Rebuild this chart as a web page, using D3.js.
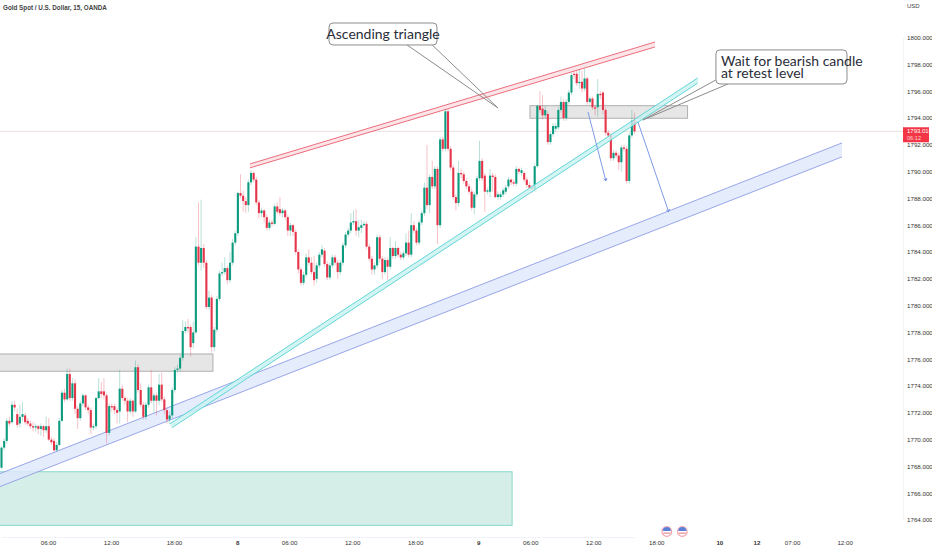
<!DOCTYPE html>
<html>
<head>
<meta charset="utf-8">
<style>
  html, body { margin: 0; padding: 0; background: #fff; }
  svg { display: block; }
</style>
<script src="https://cdn.jsdelivr.net/npm/d3@7"></script>
</head>
<body>
<div id="chart"></div>
<script>
// Data
const opens = [
  1767.9,1769.4,1769.9,1771.4,1771.3,1772.6,1771.9,1771.2,1771.7,1771.8,
  1771.4,1771.2,1771.0,1770.9,1771.0,1770.8,1771.0,1770.7,1771.0,1770.0,
  1769.9,1769.2,1769.6,1771.4,1773.5,1773.0,1774.9,1773.1,1774.2,1772.3,
  1771.6,1772.7,1773.3,1772.4,1772.2,1770.9,1771.0,1773.1,1773.6,1773.6,
  1773.3,1770.5,1772.5,1772.5,1772.2,1772.1,1773.8,1773.1,1772.9,1772.1,
  1772.9,1772.1,1775.4,1773.7,1772.6,1771.7,1772.6,1773.9,1772.9,1773.3,
  1772.9,1774.1,1773.0,1772.2,1771.5,1771.8,1773.7,1775.2,1775.3,1776.1,
  1778.1,1778.4,1778.4,1777.2,1778.0,1784.4,1783.2,1784.3,1783.2,1779.9,
  1780.6,1776.9,1778.2,1780.5,1782.4,1782.5,1782.8,1781.9,1783.2,1784.7,
  1785.4,1788.4,1788.2,1787.8,1787.5,1789.2,1789.9,1789.4,1787.7,1786.9,
  1787.1,1786.6,1785.8,1786.2,1786.1,1787.4,1787.2,1786.9,1787.1,1786.6,
  1785.6,1786.0,1785.5,1784.0,1782.7,1781.7,1782.3,1783.6,1783.2,1782.5,
  1782.0,1783.0,1783.8,1784.1,1783.1,1782.1,1783.0,1783.6,1783.2,1782.5,
  1783.2,1784.5,1785.3,1785.6,1786.2,1786.3,1785.6,1785.8,1786.0,1786.1,
  1784.4,1783.5,1782.7,1783.0,1785.1,1783.5,1782.5,1783.4,1782.9,1784.3,
  1783.7,1784.3,1783.8,1783.6,1783.9,1784.7,1783.8,1786.0,1785.6,1784.7,
  1786.2,1786.9,1788.8,1787.5,1789.6,1788.9,1790.2,1786.0,1792.4,1791.7,
  1794.5,1791.7,1790.3,1788.1,1787.65,1789.9,1789.8,1789.3,1788.9,1788.5,
  1787.3,1788.3,1789.5,1790.8,1789.7,1788.5,1788.5,1789.7,1789.6,1788.1,
  1788.1,1788.3,1788.5,1788.9,1789.4,1789.2,1789.1,1790.2,1789.9,1789.9,
  1789.4,1789.0,1788.8,1788.7,1790.4,1794.9,1794.7,1794.2,1794.3,1792.2,
  1792.8,1793.2,1793.3,1794.6,1795.2,1794.0,1795.2,1795.9,1797.3,1797.3,
  1796.6,1796.7,1796.2,1796.95,1795.2,1795.45,1794.8,1794.8,1795.8,1795.9,
  1794.6,1792.9,1792.7,1791.0,1791.4,1791.2,1790.7,1791.8,1791.7,1789.3,
  1792.7,1793.85
]
const closes = [
  1769.4,1769.9,1771.4,1771.2,1772.6,1772.4,1771.1,1771.7,1771.9,1771.3,
  1771.2,1771.0,1770.9,1771.0,1770.8,1771.0,1770.7,1771.0,1770.0,1769.8,
  1769.2,1769.6,1771.4,1773.5,1773.0,1774.9,1773.1,1774.2,1772.3,1771.6,
  1772.7,1773.3,1772.4,1772.2,1770.9,1771.0,1773.1,1773.6,1773.4,1773.3,
  1770.5,1772.5,1772.4,1772.2,1772.0,1773.8,1773.1,1772.9,1772.1,1772.9,
  1772.1,1775.4,1773.7,1772.6,1771.7,1772.6,1773.9,1772.9,1773.3,1772.9,
  1774.1,1773.0,1772.2,1771.5,1771.8,1773.7,1775.2,1775.3,1776.1,1778.1,
  1778.4,1778.3,1776.9,1778.0,1784.4,1783.2,1784.3,1783.2,1779.9,1780.6,
  1776.9,1778.2,1780.5,1782.4,1782.5,1782.8,1781.9,1783.2,1784.7,1785.4,
  1788.4,1788.2,1787.8,1787.5,1789.2,1789.9,1789.4,1787.7,1786.9,1787.1,
  1786.6,1785.8,1786.2,1786.1,1787.4,1787.0,1786.9,1787.1,1786.6,1785.6,
  1786.0,1785.5,1784.0,1782.7,1781.7,1782.3,1783.6,1783.2,1782.5,1781.9,
  1783.0,1783.8,1784.2,1783.1,1782.1,1783.0,1783.6,1783.2,1782.5,1783.2,
  1784.5,1785.3,1785.6,1786.2,1786.3,1785.6,1785.85,1786.0,1786.1,1784.4,
  1783.5,1782.7,1783.0,1785.1,1783.5,1782.5,1783.4,1782.9,1784.3,1783.7,
  1784.3,1783.8,1783.6,1783.9,1784.7,1783.8,1786.0,1785.6,1784.7,1786.2,
  1786.9,1788.8,1787.5,1789.6,1788.9,1790.2,1786.0,1792.4,1791.7,1794.5,
  1791.7,1790.3,1788.1,1787.65,1789.9,1789.8,1789.3,1788.9,1788.5,1787.3,
  1788.3,1789.5,1790.8,1789.5,1788.5,1788.6,1789.7,1789.6,1788.1,1788.3,
  1788.3,1788.6,1788.8,1789.4,1789.2,1789.1,1790.2,1790.0,1790.1,1789.4,
  1789.0,1788.8,1788.7,1790.4,1794.9,1794.6,1794.2,1794.6,1792.2,1792.8,
  1793.4,1793.4,1794.6,1795.2,1794.0,1795.2,1795.9,1797.2,1797.2,1796.6,
  1796.7,1796.2,1796.95,1795.2,1795.45,1794.8,1794.7,1795.8,1795.7,1794.6,
  1792.9,1792.7,1791.0,1791.4,1791.2,1790.7,1791.8,1791.7,1789.3,1792.7,
  1793.8,1793.0
]
const highs = [
  1769.5,1770.1,1771.6,1771.7,1772.9,1772.9,1772.3,1772.6,1772.8,1772.0,
  1771.6,1771.4,1771.3,1771.2,1771.1,1771.2,1771.1,1771.7,1771.6,1770.2,
  1770.1,1769.8,1771.6,1773.7,1773.8,1775.3,1775.3,1774.6,1774.5,1772.5,
  1772.9,1773.5,1773.4,1772.6,1772.4,1771.2,1773.2,1774.6,1774.3,1774.6,
  1773.5,1772.7,1772.7,1772.7,1772.4,1775.2,1774.1,1773.3,1773.1,1773.1,
  1773.0,1775.9,1775.6,1774.2,1772.8,1772.8,1774.1,1775.2,1773.5,1773.5,
  1774.9,1775.0,1773.2,1772.4,1772.1,1773.9,1775.4,1775.6,1776.3,1778.9,
  1778.8,1779.0,1778.6,1778.8,1785.1,1787.7,1787.9,1784.6,1783.4,1781.1,
  1780.8,1778.4,1780.7,1782.6,1783.2,1783.6,1783.0,1784.0,1785.0,1785.6,
  1788.5,1789.8,1788.6,1788.1,1789.4,1790.1,1790.0,1789.6,1787.9,1787.3,
  1787.2,1786.8,1786.4,1786.4,1787.6,1787.7,1788.1,1787.3,1787.2,1786.8,
  1786.2,1786.1,1785.7,1784.2,1782.9,1782.5,1783.9,1784.2,1783.6,1783.7,
  1783.2,1784.0,1784.5,1784.3,1783.3,1783.2,1783.8,1783.8,1783.4,1783.4,
  1784.7,1785.5,1785.8,1786.9,1787.1,1787.2,1786.4,1786.4,1786.3,1786.3,
  1784.6,1783.7,1783.2,1785.3,1785.3,1783.7,1783.6,1783.6,1785.1,1784.4,
  1784.8,1784.4,1784.0,1784.1,1785.4,1785.6,1786.9,1786.3,1785.8,1786.4,
  1787.1,1789.2,1792.0,1789.8,1790.8,1790.4,1790.4,1792.6,1792.6,1794.7,
  1794.7,1791.9,1790.5,1788.3,1790.8,1790.2,1790.0,1789.5,1789.1,1788.7,
  1788.5,1789.7,1792.3,1791.0,1789.9,1788.8,1790.2,1789.9,1789.8,1788.5,
  1788.5,1788.8,1789.0,1789.6,1789.5,1789.4,1790.4,1790.3,1790.3,1790.0,
  1789.6,1789.2,1789.0,1790.6,1795.0,1796.0,1795.7,1794.9,1794.5,1793.0,
  1793.6,1793.6,1794.8,1795.6,1795.4,1795.4,1796.1,1797.4,1797.6,1797.6,
  1797.7,1797.5,1797.7,1797.1,1795.6,1795.6,1795.0,1796.9,1796.0,1796.0,
  1794.8,1793.1,1792.9,1791.6,1791.6,1791.4,1792.0,1792.0,1791.9,1792.9,
  1794.6,1794.4
]
const lows = [
  1767.8,1769.2,1769.7,1771.0,1771.2,1772.1,1770.9,1770.9,1771.4,1771.1,
  1771.0,1770.8,1770.6,1770.6,1770.4,1770.3,1770.2,1770.5,1769.9,1769.6,
  1769.1,1769.1,1769.5,1771.3,1772.8,1772.9,1772.9,1772.9,1771.9,1770.8,
  1771.4,1772.5,1772.2,1771.9,1770.4,1770.7,1770.8,1773.0,1773.1,1773.0,
  1769.7,1770.3,1772.1,1771.9,1771.2,1771.2,1772.9,1772.6,1771.3,1771.9,
  1771.7,1772.0,1773.5,1772.4,1771.5,1771.5,1772.4,1772.7,1772.0,1771.8,
  1772.6,1772.8,1771.9,1771.2,1771.2,1771.6,1773.5,1775.0,1775.1,1775.9,
  1777.9,1778.0,1776.2,1776.8,1777.9,1783.0,1782.6,1782.8,1779.7,1779.7,
  1776.5,1776.6,1778.0,1780.3,1782.2,1782.3,1781.6,1781.7,1783.0,1784.5,
  1785.2,1788.0,1787.0,1786.9,1787.0,1789.0,1789.2,1787.5,1786.5,1786.6,
  1786.2,1785.6,1785.6,1785.9,1786.0,1786.8,1786.7,1786.6,1786.4,1785.2,
  1785.2,1785.2,1783.8,1782.4,1781.5,1781.5,1782.1,1783.0,1782.3,1781.5,
  1781.7,1782.8,1783.6,1782.9,1781.9,1781.9,1782.8,1783.0,1782.0,1782.3,
  1783.0,1784.3,1785.1,1785.4,1786.0,1785.2,1785.1,1785.4,1785.9,1784.2,
  1783.3,1782.3,1782.3,1782.8,1783.2,1782.0,1782.3,1781.9,1782.7,1783.5,
  1783.5,1783.6,1783.4,1783.4,1783.7,1783.6,1783.6,1785.4,1784.5,1784.5,
  1786.0,1786.7,1787.2,1786.9,1788.7,1788.7,1784.6,1785.8,1791.5,1791.5,
  1791.5,1790.1,1787.9,1787.1,1787.4,1789.5,1789.1,1788.7,1788.3,1787.1,
  1786.8,1788.1,1789.3,1789.3,1787.0,1788.3,1788.1,1788.5,1788.0,1787.9,
  1787.9,1788.1,1788.3,1788.7,1789.0,1788.9,1788.9,1789.8,1789.7,1789.2,
  1788.8,1788.6,1788.4,1788.5,1790.3,1794.4,1793.9,1794.0,1792.0,1792.0,
  1792.6,1793.0,1793.1,1794.4,1793.8,1793.8,1795.0,1795.7,1796.9,1796.4,
  1796.2,1795.9,1796.0,1795.0,1795.0,1794.6,1794.2,1794.1,1795.4,1794.3,
  1792.7,1792.5,1790.8,1790.8,1791.0,1790.1,1790.0,1791.5,1789.1,1789.1,
  1792.5,1792.8
]

const priceTicks = [1764,1766,1768,1770,1772,1774,1776,1778,1780,1782,1784,1786,1788,1790,1792,1794,1796,1798,1800]
const timeTicks = [17.7,41.7,65.7,89.7,109.5,133.5,157.5,181.5,201.3,225.3,249.3,273.3,287.4,301,321]
const timeLabels = ["06:00","12:00","18:00","8","06:00","12:00","18:00","9","06:00","12:00","18:00","10","12","07:00","12:00"]
const boldLabels = ["8","9","10","12"]

const chartTitle = "Gold Spot / U.S. Dollar, 15, OANDA"
const lastPrice = 1793.01
const countdown = "06:12"

// zonas: [barra inicio, barra fin, precio alto, precio bajo]
const greyZones = [[-5,80.5,1776.39,1775.1],[201.2,261.2,1794.92,1793.98]]
const tealZone = [-5,194.4,1767.6,1763.6]

// canales: [barra, precio]
const blueChannel = [[-0.6,1767.46],[320,1792.14],[320,1791.1],[-0.6,1766.49]]
const cyanChannel = [[64.1,1771.18],[265.1,1796.99],[265.1,1796.61],[64.9,1770.89]]
const redChannel = [[94.6,1790.57],[248.8,1799.67],[248.8,1799.3],[94.6,1790.28]]

const arrows = [[[223.3,1794.45],[230.1,1789.31]],[[242.3,1793.71],[254,1787.0]]]
const eventBars = [253.3,259.2]

const callouts = [
  {lines:["Ascending triangle"], box:[124.7,165.8,1801.09,1799.45], tip:[189,1794.75], from:[[154.4,1799.45],[164,1799.45]]},
  {lines:["Wait for bearish candle","at retest level"], box:[272,321.9,1799.08,1796.54], tip:[244.2,1793.85], from:[[272,1796.84],[276.6,1796.54]]}
]

// Constantes
const width = 932
const height = 550
const axisX = 903
const upColor = "#0d9b7f"
const downColor = "#e5354b"

const svg = d3.select("div#chart")
  .append("svg")
  .attr("width", width)
  .attr("height", height)

svg.append("rect").attr("width", width).attr("height", height).attr("fill", "#fff")

// Escalas
const x = d3.scaleLinear().domain([0, opens.length - 1]).range([1.5, 634.5])
const y = d3.scaleLinear().domain([1764, 1800]).range([520, 37.6])
const barWidth = 2.1

svg.append("clipPath").attr("id", "plot")
  .append("rect").attr("width", axisX).attr("height", 537)

const plot = svg.append("g").attr("clip-path", "url(#plot)")

// Linea de ultimo precio
plot.append("line")
  .attr("x1", 0).attr("x2", axisX)
  .attr("y1", y(lastPrice)).attr("y2", y(lastPrice))
  .attr("stroke", "#eadfdf")

// Zonas
plot.selectAll("rect.grey").data(greyZones).enter().append("rect")
  .attr("class", "grey")
  .attr("x", d => x(d[0]))
  .attr("y", d => y(d[2]))
  .attr("width", d => x(d[1]) - x(d[0]))
  .attr("height", d => y(d[3]) - y(d[2]))
  .attr("fill", "#e6e6e6")
  .attr("stroke", "#b0b0b0")

plot.append("rect")
  .attr("x", x(tealZone[0]))
  .attr("y", y(tealZone[2]))
  .attr("width", x(tealZone[1]) - x(tealZone[0]))
  .attr("height", y(tealZone[3]) - y(tealZone[2]))
  .attr("fill", "#d5eee8")
  .attr("stroke", "#86d8cb")

// Canales
const line = d3.line().x(d => x(d[0])).y(d => y(d[1]))

function channel(points, fill, stroke) {
  plot.append("path")
    .attr("d", line(points) + "Z")
    .attr("fill", fill)
    .attr("fill-opacity", 0.8)
    .attr("stroke", "none")
  plot.append("path")
    .attr("d", line(points.slice(0, 2)))
    .attr("fill", "none")
    .attr("stroke", stroke)
  plot.append("path")
    .attr("d", line(points.slice(2, 4)))
    .attr("fill", "none")
    .attr("stroke", stroke)
}

channel(blueChannel, "#dfe7fb", "#98a6ea")

// Velas
const candles = plot.append("g").attr("class", "candles")
const idx = d3.range(opens.length)

candles.selectAll("line").data(idx).enter().append("line")
  .attr("x1", i => x(i))
  .attr("x2", i => x(i))
  .attr("y1", i => y(highs[i]))
  .attr("y2", i => y(lows[i]))
  .attr("stroke", i => closes[i] >= opens[i] ? upColor : downColor)
  .attr("stroke-opacity", 0.3)
  .attr("stroke-width", 1)

candles.selectAll("rect").data(idx).enter().append("rect")
  .attr("x", i => x(i) - barWidth / 2)
  .attr("y", i => y(Math.max(opens[i], closes[i])))
  .attr("width", barWidth)
  .attr("height", i => Math.max(0.7, Math.abs(y(opens[i]) - y(closes[i]))))
  .attr("fill", i => closes[i] >= opens[i] ? upColor : downColor)

channel(cyanChannel, "#c9f1f1", "#62d6d6")
channel(redChannel, "#fbdfe2", "#ec6d7c")

// Flechas
const arrowGroup = plot.append("g")
arrows.forEach(a => {
  arrowGroup.append("path")
    .attr("d", line(a))
    .attr("fill", "none")
    .attr("stroke", "#7f9be6")
  const ang = Math.atan2(y(a[1][1]) - y(a[0][1]), x(a[1][0]) - x(a[0][0]))
  const tx = x(a[1][0]), ty = y(a[1][1])
  const s = 3
  arrowGroup.append("path")
    .attr("d", `M${tx - s * Math.cos(ang - 0.6)},${ty - s * Math.sin(ang - 0.6)}L${tx},${ty}L${tx - s * Math.cos(ang + 0.6)},${ty - s * Math.sin(ang + 0.6)}`)
    .attr("fill", "none")
    .attr("stroke", "#6f8de0")
})

// Callouts
callouts.forEach(c => {
  c.from.forEach(f => {
    plot.append("path")
      .attr("d", line([f, c.tip]))
      .attr("fill", "none")
      .attr("stroke", "#8c8c8c")
  })
  const bx = x(c.box[0]), bw = x(c.box[1]) - x(c.box[0])
  const by = y(c.box[2]), bh = y(c.box[3]) - y(c.box[2])
  plot.append("rect")
    .attr("x", bx).attr("y", by)
    .attr("width", bw).attr("height", bh)
    .attr("rx", 4)
    .attr("fill", "#fff")
    .attr("stroke", "#8c8c8c")
  c.lines.forEach((t, k) => {
    plot.append("text")
      .attr("x", c.lines.length > 1 ? bx + 5 : bx + bw / 2)
      .attr("y", by + bh / 2 + (k - (c.lines.length - 1) / 2) * 12.5)
      .attr("dy", "0.35em")
      .attr("text-anchor", c.lines.length > 1 ? "start" : "middle")
      .attr("font-family", "Lato, sans-serif")
      .attr("font-size", 14)
      .attr("fill", "#2a2e39")
      .text(t)
  })
})

// Ejes
const yAxis = d3.axisRight(y).tickValues(priceTicks).tickSize(0).tickPadding(4).tickFormat(d3.format(".3f"))
const yAxisGroup = svg.append("g").attr("class", "yAxisGroup")
  .attr("transform", `translate(${axisX},0)`)
  .call(yAxis)
yAxisGroup.select(".domain").attr("stroke", "#f3f4f7")
yAxisGroup.selectAll("text")
  .attr("font-family", "Liberation Sans, sans-serif")
  .attr("font-size", 6.2)
  .attr("fill", "#333")

const xAxis = d3.axisBottom(x).tickValues(timeTicks).tickSize(0).tickPadding(4)
  .tickFormat((d, i) => timeLabels[i])
const xAxisGroup = svg.append("g").attr("class", "xAxisGroup")
  .attr("transform", "translate(0,537)")
  .call(xAxis)
xAxisGroup.select(".domain").attr("stroke", "#f0f3fa")
xAxisGroup.selectAll("text")
  .attr("font-family", "Liberation Sans, sans-serif")
  .attr("font-size", 6.2)
  .attr("font-weight", (d, i) => boldLabels.includes(timeLabels[i]) ? "bold" : "normal")
  .attr("fill", "#333")

svg.append("text")
  .attr("x", 907).attr("y", 8)
  .attr("font-family", "Liberation Sans, sans-serif")
  .attr("font-size", 6)
  .attr("fill", "#444")
  .text("USD")

// Etiqueta de precio
const tag = svg.append("g").attr("transform", `translate(${axisX},${y(lastPrice)})`)
tag.append("rect")
  .attr("x", 0).attr("y", -4)
  .attr("width", 26).attr("height", 15)
  .attr("fill", "#f23645")
tag.append("text")
  .attr("x", 4).attr("y", 1.8)
  .attr("font-family", "Liberation Sans, sans-serif")
  .attr("font-size", 6)
  .attr("fill", "#fff")
  .text(d3.format(".3f")(lastPrice))
tag.append("text")
  .attr("x", 4).attr("y", 8.8)
  .attr("font-family", "Liberation Sans, sans-serif")
  .attr("font-size", 5.6)
  .attr("fill", "#ffd5d9")
  .text(countdown)

// Titulo
svg.append("text")
  .attr("x", 3).attr("y", 9.5)
  .attr("font-family", "Liberation Sans, sans-serif")
  .attr("font-size", 6.3)
  .attr("font-weight", "bold")
  .attr("fill", "#444")
  .text(chartTitle)

// Eventos
const events = svg.selectAll("g.event").data(eventBars).enter().append("g")
  .attr("class", "event")
  .attr("transform", d => `translate(${x(d)},531.5)`)
events.append("circle").attr("r", 4.8).attr("fill", "#fff").attr("stroke", "#f2a3ab").attr("stroke-width", 1.2)
events.append("path").attr("d", "M-4,-0.5A4,4 0 0 1 4,-0.5Z").attr("fill", "#5b80d8")
events.append("path").attr("d", "M-3.4,1.6H3.4").attr("stroke", "#e5737f").attr("stroke-width", 1)
</script>
</body>
</html>
